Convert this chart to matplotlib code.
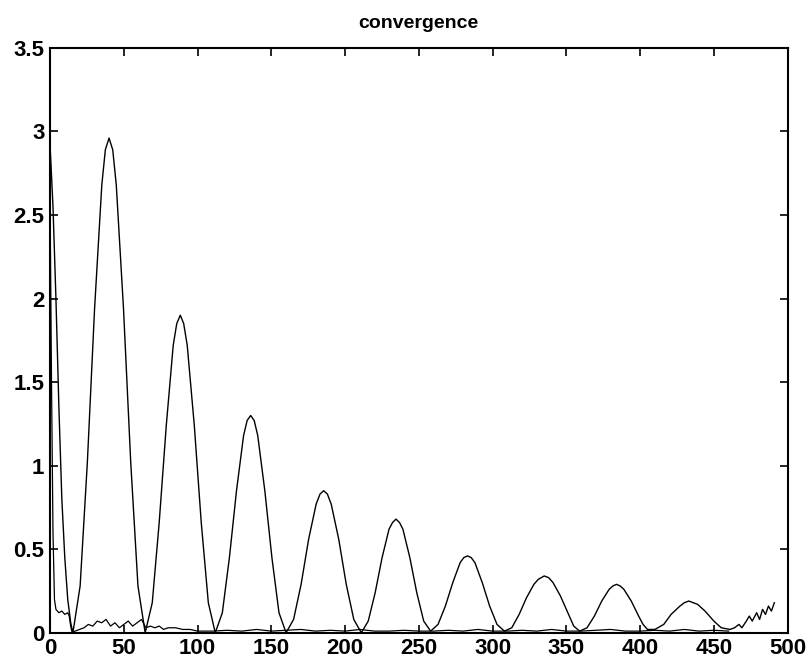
import matplotlib
matplotlib.use("Agg")
import matplotlib.pyplot as plt

# main (oscillating) error curve
main_x = [0, 2, 4, 6, 8, 10, 12, 14, 15.5,
          20.4, 25.3, 30.2, 35.1, 37.5, 40.0, 42.5, 44.9, 49.8, 54.7, 59.6, 64.5,
          69.3, 74, 78.8, 83.5, 85.9, 88.3, 90.6, 93, 97.8, 102.5, 107.3, 112,
          116.8, 121.6, 126.4, 131.2, 133.6, 136, 138.4, 140.8, 145.6, 150.4, 155.2, 160,
          165.1, 170.2, 175.3, 180.4, 183, 185.5, 188, 190.6, 195.7, 200.8, 205.9, 211,
          215.7, 220.4, 225.1, 229.8, 232.2, 234.5, 236.9, 239.2, 243.9, 248.6, 253.3, 258,
          263, 268, 273, 278, 280.5, 283, 285.5, 288, 293, 298, 303, 308,
          313, 318, 323, 328, 331, 335, 338, 341, 346, 351, 355, 359,
          364, 369, 374, 379, 381.5, 384, 386.5, 389, 394, 399, 402, 405,
          410, 416, 421, 427, 430, 433, 436, 439, 444, 450, 455, 461,
          464, 467, 469, 472, 474, 476, 479, 481, 483, 485, 487, 489, 491]
main_y = [2.92, 2.55, 2.0, 1.35, 0.8, 0.45, 0.2, 0.06, 0.0,
          0.28, 1.02, 1.94, 2.68, 2.89, 2.96, 2.89, 2.68, 1.94, 1.02, 0.28, 0.0,
          0.18, 0.66, 1.24, 1.72, 1.85, 1.90, 1.85, 1.72, 1.24, 0.66, 0.18, 0.0,
          0.12, 0.45, 0.85, 1.18, 1.27, 1.30, 1.27, 1.18, 0.85, 0.45, 0.12, 0.0,
          0.08, 0.29, 0.56, 0.77, 0.83, 0.85, 0.83, 0.77, 0.56, 0.29, 0.08, 0.0,
          0.07, 0.24, 0.45, 0.62, 0.66, 0.68, 0.66, 0.62, 0.45, 0.24, 0.07, 0.01,
          0.05, 0.16, 0.30, 0.42, 0.45, 0.46, 0.45, 0.42, 0.30, 0.16, 0.05, 0.01,
          0.03, 0.11, 0.21, 0.29, 0.32, 0.34, 0.33, 0.30, 0.22, 0.12, 0.04, 0.01,
          0.03, 0.10, 0.19, 0.26, 0.28, 0.29, 0.28, 0.26, 0.19, 0.10, 0.05, 0.02,
          0.02, 0.05, 0.11, 0.16, 0.18, 0.19, 0.18, 0.17, 0.13, 0.07, 0.03, 0.02,
          0.03, 0.05, 0.03, 0.07, 0.10, 0.07, 0.12, 0.08, 0.14, 0.11, 0.16, 0.13, 0.18]

# second (noisy, low) curve
noise_x = [0, 1, 2, 3, 4, 6, 8, 10, 12, 13, 14, 15, 17, 20, 23, 26, 29, 32, 35, 38,
           41, 44, 47, 50, 53, 56, 59, 62, 65, 68, 71, 74, 77, 80, 85, 90, 95, 100,
           110, 120, 130, 140, 150, 160, 170, 180, 190, 200, 210, 220, 230, 240, 250,
           260, 270, 280, 290, 300, 310, 320, 330, 340, 350, 360, 370, 380, 390, 400,
           410, 420, 430, 440, 450, 460]
noise_y = [2.6, 1.5, 0.6, 0.2, 0.14, 0.12, 0.13, 0.11, 0.12, 0.10, 0.04, 0.0, 0.01,
           0.02, 0.03, 0.05, 0.04, 0.07, 0.06, 0.08, 0.04, 0.06, 0.03, 0.05, 0.07,
           0.04, 0.06, 0.08, 0.03, 0.04, 0.03, 0.04, 0.02, 0.03, 0.03, 0.02, 0.02,
           0.01, 0.01, 0.015, 0.01, 0.02, 0.01, 0.015, 0.02, 0.01, 0.015, 0.01, 0.02,
           0.01, 0.01, 0.015, 0.01, 0.01, 0.015, 0.01, 0.02, 0.01, 0.01, 0.015, 0.01,
           0.02, 0.01, 0.01, 0.015, 0.02, 0.01, 0.01, 0.015, 0.01, 0.02, 0.01, 0.015, 0.01]

x_ticks = [0, 50, 100, 150, 200, 250, 300, 350, 400, 450, 500]
y_ticks = [0, 0.5, 1, 1.5, 2, 2.5, 3, 3.5]
y_labels = ["0", "0.5", "1", "1.5", "2", "2.5", "3", "3.5"]

fig = plt.figure(figsize=(8.07, 6.64), dpi=100)
ax = fig.add_axes([0.062, 0.047, 0.914, 0.881])

ax.plot(main_x, main_y, color="black", lw=1.0)
ax.plot(noise_x, noise_y, color="black", lw=0.9)

ax.set_xlim(0, 500)
ax.set_ylim(0, 3.5)
ax.set_xticks(x_ticks)
ax.set_yticks(y_ticks)
ax.set_yticklabels(y_labels)

tick_font = matplotlib.font_manager.FontProperties(
    family=["Liberation Sans", "DejaVu Sans"], weight="bold", size=16)
for lab in ax.get_xticklabels() + ax.get_yticklabels():
    lab.set_fontproperties(tick_font)

ax.tick_params(direction="in", length=6, width=1.2, top=True, right=True, pad=4)
for s in ax.spines.values():
    s.set_linewidth(1.5)

ax.set_title("convergence", fontsize=14, fontweight="bold",
             family=["Liberation Sans", "DejaVu Sans"], pad=14)

fig.savefig("out.png", dpi=100)
